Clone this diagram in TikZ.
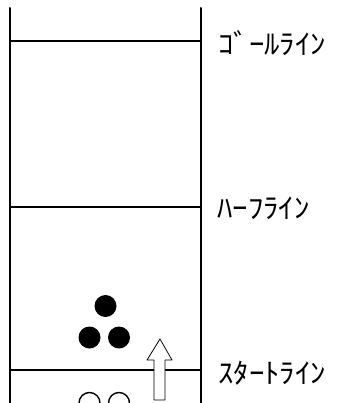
\documentclass[tikz,border=0pt]{standalone}
\usepackage{fontspec}
\usepackage{tikz}
\usetikzlibrary{positioning, calc}
\newfontfamily\jpfont{Noto Sans CJK JP}
\tikzset{lane/.style={line width=2pt},
    mark line/.style={line width=1.5pt},
    label text/.style={anchor=west, inner sep=0pt, font=\jpfont\fontsize{28}{28}\selectfont, xscale=1.1, transform shape},
    player/.style={circle, fill=black, minimum size=22pt, inner sep=0pt},
    rival/.style={circle, draw=black, line width=1.4pt, minimum size=21pt, inner sep=0pt}}

\begin{document}
\begin{tikzpicture}[x=1pt, y=-1pt, line cap=round, line join=round]
    \useasboundingbox (0,0) rectangle (337,403);
    \clip (0,0) rectangle (337,403);

    % lane borders
    \coordinate (lt) at (10,8);
    \coordinate (lb) at (10,410);
    \coordinate (rt) at (201,8);
    \coordinate (rb) at (201,410);
    \draw [lane] (lt) -- (lb);
    \draw [lane] (rt) -- (rb);

    % lines across the lane
    \coordinate (goalL) at (10,41);
    \coordinate (goalR) at (201,41);
    \coordinate (halfL) at (10,207);
    \coordinate (halfR) at (201,207);
    \coordinate (startL) at (10,370);
    \coordinate (startR) at (201,370);
    \draw [mark line] (goalL) -- (goalR);
    \draw [mark line] (halfL) -- (halfR);
    \draw [mark line] (startL) -- (startR);

    \node [label text] (goal) at (218,43) {ｺﾞｰﾙﾗｲﾝ};
    \node [label text] (half) at (217,208) {ﾊｰﾌﾗｲﾝ};
    \node [label text] (start) at (218,373) {ｽﾀｰﾄﾗｲﾝ};

    % players
    \node [player] (p1) at (105.5,306) {};
    \node [player] (p2) at (89.5,337.5) {};
    \node [player] (p3) at (119,337.5) {};
    \node [rival] (q1) at (89.5,403) {};
    \node [rival] (q2) at (119,403) {};

    % moving direction
    \draw [line width=0.8pt, fill=white]
        (154,400) -- (154,360) -- (147,360) -- (160,339) -- (172,360)
        -- (165,360) -- (165,400) -- cycle;
\end{tikzpicture}
\end{document}
